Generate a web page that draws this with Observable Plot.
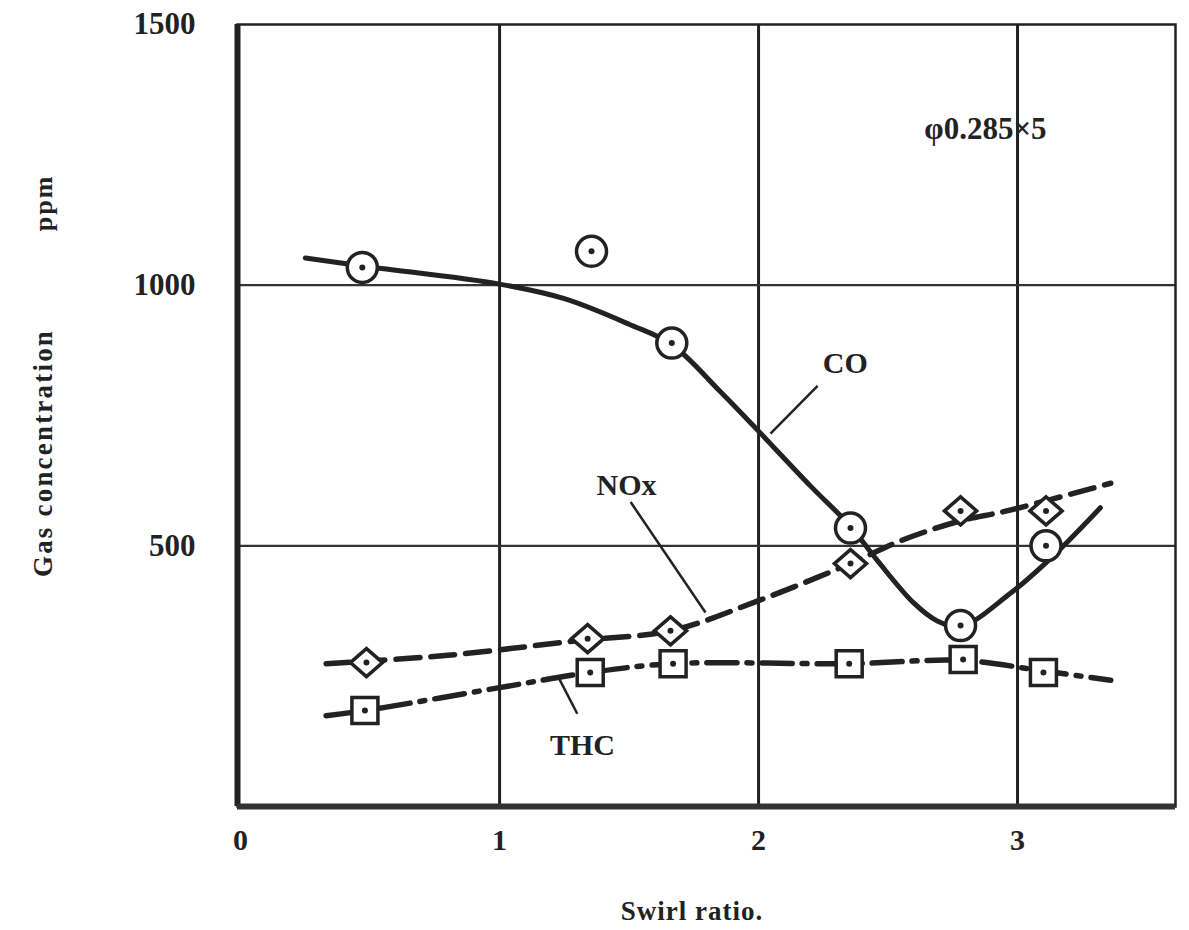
<!DOCTYPE html>
<html>
<head>
<meta charset="utf-8">
<script src="https://cdn.jsdelivr.net/npm/d3@7"></script>
<script src="https://cdn.jsdelivr.net/npm/@observablehq/plot@0.6"></script>
<style>
  html, body { margin: 0; padding: 0; background: #fff; }
  #chart svg { display: block; }
</style>
</head>
<body>
<div id="chart"></div>
<script>
// ---- data ----
const xTicks = [0, 1, 2, 3];
const yTicks = [500, 1000, 1500];

// measured points
const coX  = [0.47, 1.355, 1.665, 2.355, 2.78, 3.11];
const coY  = [1034, 1065, 889, 534, 347, 500];
const noxX = [0.486, 1.34, 1.66, 2.355, 2.78, 3.11];
const noxY = [276, 322, 337, 466, 567, 567];
const thcX = [0.48, 1.35, 1.67, 2.35, 2.79, 3.10];
const thcY = [184, 257, 274, 274, 282, 257];

// hand-drawn trend curves
const coCurveX  = [0.25, 0.5, 1.0, 1.25, 1.5, 1.665, 1.85, 2.0, 2.2, 2.35, 2.46, 2.6, 2.69, 2.78, 2.97, 3.13, 3.32];
const coCurveY  = [1052, 1035, 1002, 974, 925, 886, 797, 720, 615, 540, 471, 390, 356, 345, 408, 477, 573];
const noxCurveX = [0.33, 0.8, 1.3, 1.66, 2.0, 2.355, 2.55, 2.78, 2.95, 3.36];
const noxCurveY = [274, 290, 318, 337, 395, 466, 510, 548, 566, 620];
const thcCurveX = [0.33, 0.48, 1.0, 1.35, 1.67, 2.35, 2.79, 3.10, 3.36];
const thcCurveY = [174, 184, 228, 257, 274, 274, 280, 260, 242];

// labels and leader lines
const labelText = ["CO", "NOx", "THC", "φ0.285×5"];
const labelX    = [2.335, 1.49, 1.32, 2.876];
const labelY    = [850, 615, 117, 1299];
const leaderX1  = [2.228, 1.506, 1.30];
const leaderY1  = [807, 584, 178];
const leaderX2  = [2.046, 1.795, 1.224];
const leaderY2  = [715, 372, 251];

const xLabel = "Swirl ratio.";
const yLabel = "Gas concentration";
const yUnit  = "ppm";

// ---- build tables ----
const zip = (xs, ys) => xs.map((x, i) => ({x, y: ys[i]}));
const coPts = zip(coX, coY), noxPts = zip(noxX, noxY), thcPts = zip(thcX, thcY);
const coLine = zip(coCurveX, coCurveY), noxLine = zip(noxCurveX, noxCurveY), thcLine = zip(thcCurveX, thcCurveY);
const labels = labelText.map((t, i) => ({t, x: labelX[i], y: labelY[i]}));
const leaders = leaderX1.map((x1, i) => ({x1, y1: leaderY1[i], x2: leaderX2[i], y2: leaderY2[i]}));

// custom symbols
const diamondSym = {draw(ctx, size) { const r = Math.sqrt(size / Math.PI); ctx.moveTo(-r * 1.15, 0); ctx.lineTo(0, -r); ctx.lineTo(r * 1.15, 0); ctx.lineTo(0, r); ctx.closePath(); }};
const squareSym  = {draw(ctx, size) { const r = Math.sqrt(size / Math.PI); ctx.rect(-r, -r, 2 * r, 2 * r); }};

const font = "'Liberation Serif', 'DejaVu Serif', serif";
const ink = "#222";

const plot = Plot.plot({
  width: 1189,
  height: 930,
  marginLeft: 237,
  marginRight: 14,
  marginTop: 24,
  marginBottom: 124,
  style: {fontFamily: font, fontWeight: "bold", color: ink, background: "#fff"},
  x: {domain: [-0.012, 3.61]},
  y: {domain: [0, 1500]},
  marks: [
    Plot.axisX({ticks: xTicks, tickSize: 0, tickPadding: 22, label: null, tickFormat: d3.format("d"), fontSize: 30, fontWeight: "bold", fill: ink}),
    Plot.axisY({ticks: yTicks, tickSize: 0, tickPadding: 42, label: null, tickFormat: d3.format("d"), fontSize: 31, fontWeight: "bold", fill: ink}),
    // grid
    Plot.ruleX(xTicks.slice(1), {stroke: ink, strokeWidth: 3}),
    Plot.ruleY(yTicks.slice(0, 2), {stroke: "#333", strokeWidth: 2.2}),
    // frame
    Plot.frame({stroke: ink, strokeWidth: 2.5}),
    Plot.ruleX([-0.012], {stroke: ink, strokeWidth: 6}),
    Plot.ruleY([0], {stroke: "#333", strokeWidth: 6}),
    // curves
    Plot.line(coLine, {x: "x", y: "y", curve: "catmull-rom", stroke: ink, strokeWidth: 5}),
    Plot.line(noxLine, {x: "x", y: "y", curve: "catmull-rom", stroke: ink, strokeWidth: 5.5, strokeDasharray: "24,11"}),
    Plot.line(thcLine, {x: "x", y: "y", curve: "catmull-rom", stroke: ink, strokeWidth: 5.5, strokeDasharray: "30,10,5,10"}),
    // leaders
    Plot.link(leaders, {x1: "x1", y1: "y1", x2: "x2", y2: "y2", stroke: ink, strokeWidth: 2.5}),
    // markers
    Plot.dot(coPts,  {x: "x", y: "y", r: 15, symbol: "circle", fill: "#fff", stroke: ink, strokeWidth: 3.5}),
    Plot.dot(noxPts, {x: "x", y: "y", r: 14, symbol: diamondSym, fill: "#fff", stroke: ink, strokeWidth: 3.5}),
    Plot.dot(thcPts, {x: "x", y: "y", r: 13, symbol: squareSym, fill: "#fff", stroke: ink, strokeWidth: 3.5}),
    Plot.dot([...coPts, ...noxPts, ...thcPts], {x: "x", y: "y", r: 3, fill: ink}),
    // labels
    Plot.text(labels.slice(0, 3), {x: "x", y: "y", text: "t", fontSize: 30, fontWeight: "bold", fill: ink, fontFamily: font}),
    Plot.text(labels.slice(3), {x: "x", y: "y", text: "t", fontSize: 31, fontWeight: "bold", fill: ink, fontFamily: font, letterSpacing: 2})
  ]
});

const svg = d3.select(plot);
svg.append("text").attr("x", 692).attr("y", 920).attr("text-anchor", "middle")
  .attr("font-family", font).attr("font-size", 27).attr("font-weight", "bold").attr("letter-spacing", 1)
  .attr("fill", ink).text(xLabel);
svg.append("text").attr("transform", "translate(52,453) rotate(-90)").attr("text-anchor", "middle")
  .attr("font-family", font).attr("font-size", 27).attr("font-weight", "bold").attr("letter-spacing", 2.2)
  .attr("fill", ink).text(yLabel);
svg.append("text").attr("transform", "translate(52,203) rotate(-90)").attr("text-anchor", "middle")
  .attr("font-family", font).attr("font-size", 26).attr("font-weight", "bold").attr("letter-spacing", 2)
  .attr("fill", ink).text(yUnit);

document.getElementById("chart").appendChild(plot);
</script>
</body>
</html>
